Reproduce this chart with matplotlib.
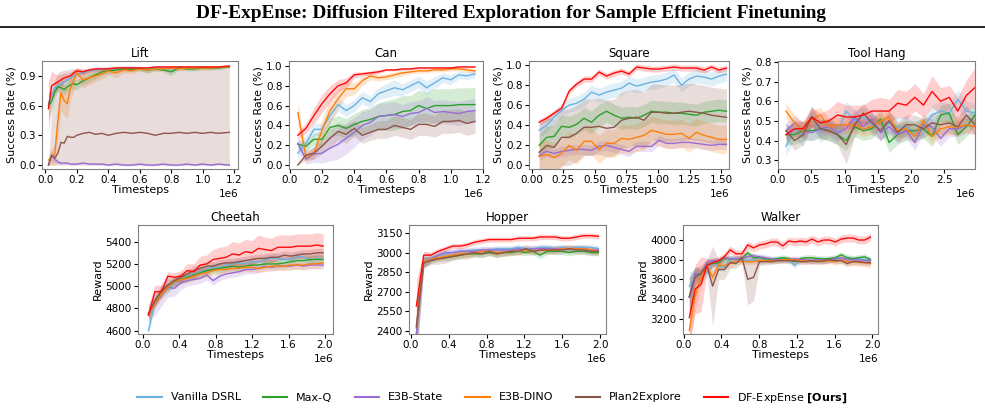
import numpy as np
import matplotlib.pyplot as plt

W, H = 985, 412

methods = ["Vanilla DSRL", "Max-Q", "E3B-State", "E3B-DINO", "Plan2Explore",
           r"DF-ExpEnse $\mathbf{[Ours]}$"]
colors = ["#6cb2e0", "#2ca02c", "#9a6cd6", "#ff7f0e", "#8c564b", "#ff0a0a"]

# ---------------- Lift ----------------
lift_x = np.array([0.02, 0.04, 0.06, 0.08, 0.10, 0.12, 0.14, 0.16, 0.18, 0.20, 0.24, 0.28,
                   0.32, 0.36, 0.40, 0.45, 0.50, 0.55, 0.60, 0.65, 0.70, 0.75, 0.80, 0.85,
                   0.90, 0.95, 1.00, 1.05, 1.10, 1.17]) * 1e6
lift_blue = [0.62, 0.70, 0.78, 0.80, 0.82, 0.84, 0.86, 0.88, 0.90, 0.92, 0.93, 0.95, 0.96, 0.97, 0.97,
             0.97, 0.98, 0.98, 0.98, 0.97, 0.98, 0.98, 0.97, 0.99, 0.98, 0.98, 0.99, 0.98, 0.99, 0.99]
lift_green = [0.60, 0.64, 0.74, 0.79, 0.78, 0.76, 0.79, 0.81, 0.82, 0.81, 0.85, 0.88, 0.91, 0.94, 0.95,
              0.96, 0.97, 0.97, 0.97, 0.96, 0.97, 0.96, 0.94, 0.98, 0.97, 0.97, 0.98, 0.98, 0.98, 0.99]
lift_purple = [0.00, 0.10, 0.06, 0.03, 0.02, 0.02, 0.02, 0.01, 0.01, 0.01, 0.02, 0.01, 0.01, 0.01, 0.00,
               0.01, 0.00, 0.00, 0.01, 0.00, 0.00, 0.01, 0.00, 0.00, 0.01, 0.00, 0.01, 0.00, 0.01, 0.00]
lift_orange = [0.05, 0.08, 0.11, 0.45, 0.73, 0.65, 0.62, 0.78, 0.85, 0.93, 0.86, 0.88, 0.90, 0.92, 0.95,
               0.93, 0.96, 0.95, 0.97, 0.96, 0.97, 0.97, 0.98, 0.97, 0.98, 0.98, 0.98, 0.98, 0.99, 0.99]
lift_brown = [0.00, 0.10, 0.07, 0.12, 0.23, 0.22, 0.29, 0.28, 0.28, 0.30, 0.32, 0.33, 0.31, 0.32, 0.30,
              0.32, 0.33, 0.32, 0.33, 0.32, 0.30, 0.32, 0.32, 0.33, 0.32, 0.33, 0.32, 0.33, 0.32, 0.33]
lift_red = [0.57, 0.80, 0.82, 0.84, 0.86, 0.88, 0.89, 0.90, 0.93, 0.95, 0.94, 0.96, 0.97, 0.97, 0.97,
            0.98, 0.98, 0.98, 0.98, 0.98, 0.99, 0.99, 0.99, 0.99, 0.99, 0.99, 0.99, 0.99, 0.99, 1.00]
lift_err = [
    [0.10, 0.08, 0.06, 0.05, 0.05, 0.04, 0.04, 0.04, 0.03, 0.03, 0.03, 0.02, 0.02, 0.02, 0.02,
     0.02, 0.02, 0.02, 0.02, 0.02, 0.02, 0.02, 0.02, 0.01, 0.01, 0.01, 0.01, 0.01, 0.01, 0.01],
    [0.15, 0.10, 0.06, 0.05, 0.05, 0.05, 0.05, 0.05, 0.05, 0.05, 0.04, 0.04, 0.04, 0.03, 0.03,
     0.03, 0.02, 0.02, 0.02, 0.03, 0.02, 0.02, 0.04, 0.02, 0.02, 0.02, 0.02, 0.02, 0.02, 0.01],
    [0.00, 0.06, 0.04, 0.02, 0.01, 0.01, 0.01, 0.01, 0.01, 0.01, 0.01, 0.01, 0.01, 0.01, 0.01,
     0.01, 0.01, 0.01, 0.01, 0.01, 0.01, 0.01, 0.01, 0.01, 0.01, 0.01, 0.01, 0.01, 0.01, 0.01],
    [0.05, 0.08, 0.12, 0.20, 0.17, 0.15, 0.15, 0.12, 0.10, 0.06, 0.08, 0.07, 0.06, 0.05, 0.04,
     0.05, 0.03, 0.03, 0.02, 0.03, 0.02, 0.02, 0.02, 0.02, 0.02, 0.02, 0.02, 0.02, 0.01, 0.01],
    ([0.00] * 30,
     [0.00, 0.55, 0.85, 0.93, 0.95, 0.96, 0.96, 0.97, 0.97, 0.97, 0.97, 0.97, 0.97, 0.97, 0.98,
      0.98, 0.98, 0.98, 0.98, 0.98, 0.98, 0.98, 0.98, 0.98, 0.98, 0.98, 0.98, 0.98, 0.98, 0.98]),
    [0.27, 0.15, 0.10, 0.07, 0.06, 0.05, 0.04, 0.04, 0.03, 0.03, 0.03, 0.02, 0.02, 0.02, 0.02,
     0.02, 0.02, 0.02, 0.01, 0.01, 0.01, 0.01, 0.01, 0.01, 0.01, 0.01, 0.01, 0.01, 0.01, 0.01],
]

# ---------------- Can ----------------
can_x = np.array([0.05, 0.10, 0.15, 0.20, 0.25, 0.30, 0.35, 0.40, 0.45, 0.50, 0.55, 0.60,
                  0.65, 0.70, 0.75, 0.80, 0.85, 0.90, 0.95, 1.00, 1.05, 1.10, 1.15]) * 1e6
can_blue = [0.12, 0.22, 0.36, 0.36, 0.50, 0.61, 0.55, 0.60, 0.68, 0.64, 0.72, 0.75,
            0.78, 0.76, 0.80, 0.84, 0.78, 0.83, 0.88, 0.86, 0.91, 0.90, 0.92]
can_green = [0.21, 0.19, 0.26, 0.26, 0.38, 0.40, 0.37, 0.41, 0.44, 0.46, 0.49, 0.50,
             0.51, 0.54, 0.55, 0.60, 0.57, 0.60, 0.60, 0.60, 0.61, 0.61, 0.61]
can_purple = [0.22, 0.06, 0.11, 0.12, 0.17, 0.21, 0.27, 0.33, 0.40, 0.43, 0.49, 0.50,
              0.51, 0.49, 0.52, 0.53, 0.57, 0.53, 0.54, 0.53, 0.52, 0.54, 0.55]
can_orange = [0.53, 0.08, 0.12, 0.35, 0.55, 0.67, 0.77, 0.77, 0.85, 0.90, 0.88, 0.89,
              0.91, 0.93, 0.94, 0.95, 0.95, 0.96, 0.96, 0.97, 0.97, 0.96, 0.95]
can_brown = [0.00, 0.10, 0.12, 0.19, 0.27, 0.34, 0.31, 0.37, 0.30, 0.33, 0.36, 0.36,
             0.40, 0.38, 0.36, 0.41, 0.41, 0.39, 0.44, 0.44, 0.45, 0.42, 0.44]
can_red = [0.30, 0.37, 0.50, 0.62, 0.72, 0.80, 0.83, 0.91, 0.92, 0.93, 0.94, 0.96,
           0.96, 0.97, 0.97, 0.98, 0.98, 0.98, 0.98, 0.98, 0.99, 0.99, 0.99]
can_err = [
    [0.08, 0.08, 0.06, 0.06, 0.07, 0.07, 0.06, 0.06, 0.06, 0.06, 0.06, 0.07,
     0.08, 0.06, 0.06, 0.06, 0.07, 0.06, 0.05, 0.05, 0.04, 0.04, 0.04],
    [0.05, 0.05, 0.06, 0.07, 0.09, 0.10, 0.10, 0.11, 0.12, 0.12, 0.14, 0.15,
     0.16, 0.16, 0.15, 0.16, 0.16, 0.17, 0.17, 0.17, 0.17, 0.17, 0.17],
    [0.06, 0.05, 0.08, 0.10, 0.13, 0.15, 0.16, 0.15, 0.14, 0.13, 0.13, 0.13,
     0.13, 0.12, 0.12, 0.12, 0.12, 0.12, 0.12, 0.12, 0.12, 0.12, 0.12],
    [0.12, 0.05, 0.06, 0.12, 0.12, 0.10, 0.08, 0.06, 0.05, 0.04, 0.03, 0.03,
     0.03, 0.03, 0.02, 0.02, 0.02, 0.02, 0.02, 0.02, 0.02, 0.02, 0.02],
    [0.00, 0.05, 0.06, 0.08, 0.09, 0.09, 0.09, 0.08, 0.08, 0.08, 0.09, 0.09,
     0.10, 0.10, 0.10, 0.11, 0.11, 0.11, 0.12, 0.12, 0.12, 0.12, 0.12],
    [0.04, 0.05, 0.08, 0.09, 0.08, 0.06, 0.05, 0.03, 0.02, 0.02, 0.02, 0.01,
     0.01, 0.01, 0.01, 0.01, 0.01, 0.01, 0.01, 0.01, 0.01, 0.01, 0.01],
]

# ---------------- Square ----------------
square_x = np.linspace(0.06, 1.54, 26) * 1e6
square_blue = [0.35, 0.40, 0.48, 0.55, 0.60, 0.62, 0.66, 0.73, 0.70, 0.73, 0.75, 0.77, 0.82,
               0.79, 0.81, 0.83, 0.84, 0.86, 0.90, 0.80, 0.86, 0.89, 0.88, 0.86, 0.89, 0.91]
square_green = [0.20, 0.28, 0.29, 0.39, 0.38, 0.41, 0.47, 0.43, 0.50, 0.54, 0.50, 0.47, 0.48,
                0.47, 0.50, 0.54, 0.53, 0.53, 0.52, 0.52, 0.51, 0.50, 0.53, 0.54, 0.55, 0.54]
square_purple = [0.10, 0.14, 0.12, 0.14, 0.15, 0.16, 0.16, 0.15, 0.19, 0.20, 0.18, 0.16, 0.14,
                 0.19, 0.19, 0.19, 0.25, 0.22, 0.22, 0.23, 0.23, 0.22, 0.21, 0.20, 0.21, 0.21]
square_orange = [0.09, 0.11, 0.08, 0.12, 0.20, 0.15, 0.24, 0.24, 0.16, 0.22, 0.22, 0.27, 0.26,
                 0.28, 0.30, 0.35, 0.33, 0.31, 0.31, 0.32, 0.27, 0.33, 0.30, 0.28, 0.26, 0.26]
square_brown = [0.13, 0.20, 0.18, 0.28, 0.28, 0.32, 0.38, 0.38, 0.39, 0.37, 0.38, 0.45, 0.47,
                0.48, 0.45, 0.53, 0.53, 0.52, 0.52, 0.53, 0.54, 0.53, 0.52, 0.50, 0.49, 0.48]
square_red = [0.43, 0.47, 0.52, 0.57, 0.74, 0.81, 0.86, 0.86, 0.93, 0.89, 0.92, 0.94, 0.91,
              0.98, 0.97, 0.96, 0.96, 0.97, 0.98, 0.97, 0.97, 0.97, 0.95, 0.98, 0.95, 0.97]
square_err = [0.07, 0.11, 0.05, 0.14, 0.28, 0.03]

# ---------------- Tool Hang ----------------
tool_x = np.linspace(0.12, 2.96, 23) * 1e6
tool_blue = [0.37, 0.46, 0.42, 0.53, 0.44, 0.47, 0.44, 0.55, 0.50, 0.52, 0.48, 0.45,
             0.49, 0.47, 0.47, 0.44, 0.47, 0.53, 0.55, 0.54, 0.61, 0.55, 0.54]
tool_green = [0.43, 0.43, 0.45, 0.45, 0.46, 0.45, 0.43, 0.40, 0.47, 0.45, 0.46, 0.51,
              0.39, 0.43, 0.45, 0.45, 0.46, 0.42, 0.53, 0.54, 0.43, 0.47, 0.53]
tool_purple = [0.45, 0.49, 0.45, 0.44, 0.46, 0.47, 0.44, 0.46, 0.52, 0.47, 0.51, 0.44,
               0.47, 0.43, 0.45, 0.39, 0.48, 0.47, 0.41, 0.46, 0.46, 0.48, 0.47]
tool_orange = [0.55, 0.49, 0.45, 0.51, 0.53, 0.47, 0.48, 0.48, 0.48, 0.46, 0.47, 0.50,
               0.52, 0.45, 0.46, 0.42, 0.50, 0.42, 0.46, 0.47, 0.47, 0.48, 0.47]
tool_brown = [0.45, 0.40, 0.43, 0.52, 0.46, 0.45, 0.43, 0.38, 0.48, 0.54, 0.49, 0.45,
              0.50, 0.44, 0.48, 0.48, 0.46, 0.49, 0.48, 0.49, 0.47, 0.53, 0.48]
tool_red = [0.43, 0.46, 0.46, 0.52, 0.49, 0.50, 0.53, 0.52, 0.52, 0.53, 0.55, 0.55,
            0.55, 0.59, 0.58, 0.62, 0.58, 0.65, 0.60, 0.62, 0.55, 0.63, 0.67]
tool_err = [
    0.05, 0.05, 0.04, 0.04,
    [0.04, 0.05, 0.05, 0.05, 0.05, 0.05, 0.05, 0.10, 0.06, 0.05, 0.05, 0.05,
     0.05, 0.05, 0.05, 0.05, 0.05, 0.05, 0.05, 0.05, 0.05, 0.05, 0.05],
    [0.03, 0.04, 0.04, 0.05, 0.05, 0.06, 0.07, 0.06, 0.06, 0.05, 0.06, 0.07,
     0.06, 0.07, 0.07, 0.07, 0.06, 0.08, 0.07, 0.06, 0.07, 0.08, 0.10],
]

# ---------------- Cheetah ----------------
cheetah_x = np.linspace(0.06, 1.98, 28) * 1e6
cheetah_blue = [4600, 4850, 4930, 4980, 5030, 5060, 5090, 5110, 5130, 5150, 5170, 5170, 5190, 5200,
                5210, 5200, 5220, 5220, 5240, 5250, 5250, 5240, 5240, 5270, 5260, 5230, 5250, 5240]
cheetah_green = [4750, 4860, 4950, 5000, 5040, 5060, 5080, 5100, 5120, 5140, 5150, 5160, 5170, 5180,
                 5170, 5180, 5190, 5190, 5200, 5200, 5200, 5210, 5220, 5230, 5230, 5240, 5240, 5240]
cheetah_purple = [4760, 4830, 4920, 4990, 4980, 5030, 5050, 5060, 5070, 5100, 5050, 5090, 5110, 5120,
                  5130, 5150, 5150, 5160, 5180, 5170, 5180, 5180, 5180, 5190, 5180, 5190, 5190, 5190]
cheetah_orange = [4740, 4840, 4930, 4990, 5040, 5060, 5070, 5090, 5110, 5120, 5140, 5150, 5150, 5160,
                  5160, 5170, 5170, 5160, 5170, 5180, 5180, 5180, 5190, 5190, 5190, 5200, 5200, 5210]
cheetah_brown = [4750, 4870, 4960, 5010, 5050, 5080, 5110, 5140, 5160, 5180, 5180, 5200, 5210, 5210,
                 5220, 5230, 5240, 5250, 5250, 5260, 5260, 5280, 5270, 5280, 5290, 5290, 5300, 5300]
cheetah_red = [4740, 4950, 4950, 5090, 5080, 5090, 5140, 5130, 5190, 5200, 5240, 5250, 5260, 5290,
               5280, 5310, 5300, 5340, 5330, 5320, 5350, 5350, 5350, 5360, 5360, 5360, 5370, 5360]
cheetah_err = [
    40, 40,
    [80, 90, 100, 90, 70, 60, 50, 45, 45, 45, 40, 40, 40, 40,
     40, 40, 40, 40, 40, 35, 35, 35, 35, 35, 35, 35, 35, 35],
    40, 40,
    [90, 60, 60, 40, 40, 50, 60, 70, 80, 80, 90, 100, 100, 110,
     110, 110, 110, 120, 110, 110, 110, 110, 110, 110, 110, 110, 110, 110],
]

# ---------------- Hopper ----------------
hopper_x = np.linspace(0.06, 1.98, 26) * 1e6
hopper_blue = [2380, 2940, 2960, 2980, 2990, 3000, 3010, 3010, 3020, 3020, 3020, 3030, 3030,
               3030, 3040, 3030, 3030, 3040, 3040, 3030, 3040, 3030, 3040, 3040, 3040, 3030]
hopper_green = [2420, 2930, 2940, 2960, 2960, 2970, 2980, 2990, 2990, 2990, 3000, 2990, 3000,
                3000, 3010, 3000, 3010, 2980, 3010, 3010, 3010, 3000, 3010, 3010, 3000, 3000]
hopper_purple = [2380, 2920, 2950, 2980, 3000, 3000, 3010, 3010, 3010, 3020, 3020, 3020, 3020,
                 3020, 3030, 3020, 3030, 3030, 3030, 3030, 3030, 3030, 3030, 3030, 3020, 3020]
hopper_orange = [2440, 2930, 2950, 2960, 2970, 2980, 2990, 2990, 3000, 3010, 3010, 3000, 3000,
                 3010, 3010, 3020, 3010, 3020, 3020, 3020, 3030, 3030, 3030, 3030, 3020, 3010]
hopper_brown = [2430, 2920, 2940, 2950, 2960, 2970, 2980, 2990, 3000, 2990, 3010, 2990, 3000,
                3010, 3010, 3030, 3010, 3020, 3020, 3020, 3020, 3030, 3020, 3020, 3010, 3010]
hopper_red = [2590, 2980, 2980, 3010, 3030, 3050, 3050, 3060, 3080, 3090, 3100, 3100, 3100,
              3100, 3110, 3110, 3110, 3120, 3120, 3120, 3110, 3110, 3120, 3130, 3130, 3125]
hopper_err = [
    [250, 60, 30, 25, 25, 25, 25, 25, 25, 25, 25, 25, 25, 25, 25, 25, 25, 25, 25, 25, 25, 25, 25, 25, 25, 25],
    [200, 40, 25, 25, 25, 25, 25, 25, 25, 25, 25, 25, 25, 25, 25, 25, 25, 25, 25, 25, 25, 25, 25, 25, 25, 25],
    [200, 40, 25, 25, 25, 25, 25, 25, 25, 25, 25, 25, 25, 25, 25, 25, 25, 25, 25, 25, 25, 25, 25, 25, 25, 25],
    [200, 40, 25, 25, 25, 25, 25, 25, 25, 25, 25, 25, 25, 25, 25, 25, 25, 25, 25, 25, 25, 25, 25, 25, 25, 25],
    [200, 40, 30, 40, 40, 30, 30, 40, 30, 30, 30, 30, 30, 30, 30, 30, 30, 30, 30, 30, 30, 30, 30, 30, 30, 30],
    [200, 30, 25, 20, 20, 20, 20, 20, 20, 20, 20, 20, 20, 20, 20, 20, 20, 20, 20, 20, 20, 20, 20, 20, 20, 20],
]

# ---------------- Walker ----------------
walker_x = np.linspace(0.06, 1.98, 32) * 1e6
walker_blue = [3530, 3620, 3650, 3660, 3780, 3730, 3720, 3810, 3810, 3810, 3790, 3800, 3780, 3800, 3790, 3800,
               3810, 3800, 3740, 3800, 3800, 3790, 3800, 3790, 3800, 3810, 3800, 3820, 3800, 3810, 3800, 3800]
walker_green = [3420, 3650, 3650, 3750, 3760, 3770, 3810, 3810, 3810, 3810, 3870, 3820, 3820, 3810, 3800, 3810,
                3820, 3810, 3780, 3810, 3820, 3820, 3810, 3810, 3810, 3820, 3850, 3820, 3810, 3820, 3830, 3800]
walker_purple = [3420, 3660, 3650, 3770, 3790, 3790, 3820, 3810, 3810, 3810, 3830, 3840, 3830, 3820, 3810, 3800,
                 3800, 3800, 3810, 3800, 3800, 3790, 3800, 3790, 3800, 3810, 3820, 3800, 3800, 3800, 3790, 3790]
walker_orange = [3080, 3430, 3620, 3740, 3620, 3740, 3740, 3760, 3780, 3780, 3780, 3780, 3790, 3790, 3790, 3790,
                 3800, 3800, 3800, 3790, 3790, 3780, 3790, 3780, 3790, 3780, 3800, 3780, 3780, 3770, 3770, 3760]
walker_brown = [3420, 3620, 3660, 3740, 3530, 3700, 3700, 3770, 3760, 3820, 3600, 3620, 3780, 3780, 3780, 3790,
                3790, 3790, 3790, 3780, 3780, 3790, 3780, 3790, 3800, 3790, 3790, 3760, 3780, 3780, 3770, 3770]
walker_red = [3210, 3500, 3550, 3740, 3770, 3790, 3830, 3900, 3860, 3860, 3950, 3920, 3950, 3960, 3980, 3980,
              3940, 3990, 3980, 3990, 3980, 4010, 3980, 4000, 4000, 3980, 4010, 4020, 4020, 4000, 4000, 4030]
walker_err = [
    [150, 80, 60, 50, 40, 40, 40, 30, 30, 30, 30, 30, 30, 30, 30, 30,
     30, 30, 30, 30, 30, 30, 30, 30, 30, 30, 30, 30, 30, 30, 30, 30],
    [200, 80, 60, 50, 40, 40, 40, 30, 30, 30, 40, 30, 30, 30, 30, 30,
     30, 30, 30, 30, 30, 30, 30, 30, 30, 30, 30, 30, 30, 30, 30, 30],
    [200, 60, 50, 40, 30, 30, 30, 30, 30, 30, 30, 30, 30, 30, 30, 30,
     30, 30, 30, 30, 30, 30, 30, 30, 30, 30, 30, 30, 30, 30, 30, 30],
    [200, 150, 100, 60, 60, 50, 40, 40, 30, 30, 30, 30, 30, 30, 30, 30,
     30, 30, 30, 30, 30, 30, 30, 30, 30, 40, 40, 40, 40, 40, 40, 50],
    [200, 100, 80, 60, 410, 100, 100, 60, 50, 50, 260, 240, 40, 30, 30, 30,
     30, 30, 30, 30, 30, 30, 30, 30, 30, 30, 30, 30, 30, 30, 30, 30],
    [250, 250, 280, 70, 40, 40, 40, 40, 40, 40, 40, 40, 40, 40, 40, 40,
     40, 40, 40, 40, 40, 40, 40, 40, 40, 40, 40, 40, 40, 40, 40, 40],
]


def px_rect(x0, x1, y0, y1):
    return [x0 / W, 1 - y1 / H, (x1 - x0) / W, (y1 - y0) / H]


def draw(ax, x, means, errs):
    for m, e, c in zip(means, errs, colors):
        m = np.asarray(m, float)
        if isinstance(e, tuple):
            lo, hi = np.asarray(e[0], float), np.asarray(e[1], float)
        else:
            lo, hi = m - np.asarray(e, float), m + np.asarray(e, float)
        ax.fill_between(x, lo, hi, color=c, alpha=0.2, lw=0)
    for m, c in zip(means, colors):
        ax.plot(x, m, color=c, lw=1.0)


def style(ax, title, ylabel):
    ax.set_title(title, fontsize=8.5, pad=3)
    ax.set_xlabel("Timesteps", fontsize=8, labelpad=0)
    ax.set_ylabel(ylabel, fontsize=8, labelpad=2)
    ax.tick_params(labelsize=7.5, length=3, pad=1.5)
    ax.xaxis.get_offset_text().set_fontsize(7.5)
    for s in ax.spines.values():
        s.set_color("#808080")


fig = plt.figure(figsize=(W / 100, H / 100), dpi=100)

fig.text(511 / W, 1 - 13.5 / H, "DF-ExpEnse: Diffusion Filtered Exploration for Sample Efficient Finetuning",
         ha="center", va="center", fontsize=13.9, fontweight="bold", family="Liberation Serif")
fig.add_artist(plt.Line2D([0, 1], [1 - 27 / H, 1 - 27 / H], color="black", lw=1.2))

panels = [
    ("Lift", lift_x, [lift_blue, lift_green, lift_purple, lift_orange, lift_brown, lift_red], lift_err,
     px_rect(42, 238, 61, 169), (-0.021e6, 1.225e6), (-0.04, 1.05), [0.0, 0.3, 0.6, 0.9],
     [0, 0.2e6, 0.4e6, 0.6e6, 0.8e6, 1.0e6, 1.2e6], "Success Rate (%)"),
    ("Can", can_x, [can_blue, can_green, can_purple, can_orange, can_brown, can_red], can_err,
     px_rect(289, 483, 61, 169), (-0.005e6, 1.2e6), (-0.04, 1.05), [0.0, 0.2, 0.4, 0.6, 0.8, 1.0],
     [0, 0.2e6, 0.4e6, 0.6e6, 0.8e6, 1.0e6, 1.2e6], "Success Rate (%)"),
    ("Square", square_x, [square_blue, square_green, square_purple, square_orange, square_brown, square_red],
     square_err, px_rect(529, 729, 61, 169), (-0.02e6, 1.56e6), (-0.035, 1.04),
     [0.0, 0.2, 0.4, 0.6, 0.8, 1.0], [0, 0.25e6, 0.5e6, 0.75e6, 1.0e6, 1.25e6, 1.5e6], "Success Rate (%)"),
    ("Tool Hang", tool_x, [tool_blue, tool_green, tool_purple, tool_orange, tool_brown, tool_red], tool_err,
     px_rect(778, 975, 61, 169), (0, 2.96e6), (0.255, 0.805), [0.3, 0.4, 0.5, 0.6, 0.7, 0.8],
     [0, 0.5e6, 1.0e6, 1.5e6, 2.0e6, 2.5e6], "Success Rate (%)"),
    ("Cheetah", cheetah_x, [cheetah_blue, cheetah_green, cheetah_purple, cheetah_orange, cheetah_brown,
                            cheetah_red], cheetah_err,
     px_rect(138, 333, 225, 334), (-0.055e6, 2.088e6), (4570, 5550), [4600, 4800, 5000, 5200, 5400],
     [0, 0.4e6, 0.8e6, 1.2e6, 1.6e6, 2.0e6], "Reward"),
    ("Hopper", hopper_x, [hopper_blue, hopper_green, hopper_purple, hopper_orange, hopper_brown, hopper_red],
     hopper_err, px_rect(409, 606, 225, 334), (-0.018e6, 2.06e6), (2374, 3212),
     [2400, 2550, 2700, 2850, 3000, 3150], [0, 0.4e6, 0.8e6, 1.2e6, 1.6e6, 2.0e6], "Reward"),
    ("Walker", walker_x, [walker_blue, walker_green, walker_purple, walker_orange, walker_brown, walker_red],
     walker_err, px_rect(683, 878, 225, 334), (-0.007e6, 2.06e6), (3043, 4153),
     [3200, 3400, 3600, 3800, 4000], [0, 0.4e6, 0.8e6, 1.2e6, 1.6e6, 2.0e6], "Reward"),
]

for title, x, means, errs, rect, xlim, ylim, yticks, xticks, ylabel in panels:
    ax = fig.add_axes(rect)
    draw(ax, x, means, errs)
    ax.set_xlim(*xlim)
    ax.set_ylim(*ylim)
    ax.set_yticks(yticks)
    ax.set_xticks(xticks)
    style(ax, title, ylabel)

handles = [plt.Line2D([], [], color=c, lw=1.5) for c in colors]
fig.legend(handles, methods, loc="center", bbox_to_anchor=(0.5, 1 - 398 / H), ncol=6, frameon=False,
           fontsize=8, handlelength=2.2, handletextpad=0.8, columnspacing=2.0)

fig.savefig("out.png", dpi=100)
